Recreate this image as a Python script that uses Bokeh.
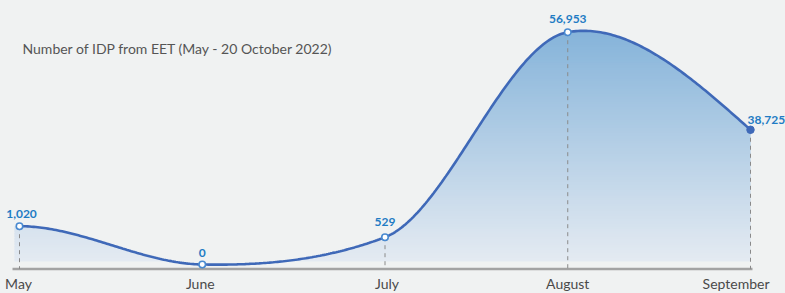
import numpy as np
from bokeh.plotting import figure
from bokeh.models import ColumnDataSource, Label, Range1d
from bokeh.core.properties import value
from bokeh.embed import file_html
from bokeh.resources import INLINE

# ---------------- data ----------------
months = ["May", "June", "July", "August", "September"]
idp_counts = [1020, 0, 529, 56953, 38725]
# height of each point as drawn in the reference (the drawing is not to scale
# for the small months); values estimated from the picture against the peak
curve_level = [9390, 0, 6690, 56953, 33030]
title_text = "Number of IDP from EET (May - 20 October 2022)"

# ---------------- style ----------------
BG = "#f0f2f2"
LINE = "#3f69b8"
LABEL = "#1f7cc4"
FONT = "Lato"
W, H = 785, 293

xs = np.arange(len(months), dtype=float)
ys = np.array(curve_level, dtype=float)
n = len(xs)

# pixel scale helpers (value units per pixel)
px_x = 1 / 182.75
px_y = 245.17

# ---------------- spline (cardinal, cubic Hermite) ----------------
TENSION = 0.6
m = np.zeros(n)
for i in range(1, n - 1):
    m[i] = TENSION * (ys[i + 1] - ys[i - 1]) / (xs[i + 1] - xs[i - 1])
m[0] = 0.0
m[-1] = (3 * (ys[-1] - ys[-2]) / (xs[-1] - xs[-2]) - m[-2]) / 2
cx, cy = [], []
for i in range(n - 1):
    h = xs[i + 1] - xs[i]
    t = np.linspace(0, 1, 90, endpoint=(i == n - 2))
    h00 = 2 * t**3 - 3 * t**2 + 1
    h10 = t**3 - 2 * t**2 + t
    h01 = -2 * t**3 + 3 * t**2
    h11 = t**3 - t**2
    cx.append(xs[i] + t * h)
    cy.append(h00 * ys[i] + h10 * h * m[i] + h01 * ys[i + 1] + h11 * h * m[i + 1])
cx = np.concatenate(cx)
cy = np.concatenate(cy)

# ---------------- figure ----------------
x0 = xs[0] - 19 * px_x
x1 = xs[-1] + 35 * px_x
y_top = 264 * px_y
y_bot = -29 * px_y
p = figure(width=W, height=H, output_backend="svg", toolbar_location=None,
           x_range=Range1d(x0, x1), y_range=Range1d(y_bot, y_top),
           min_border=0, background_fill_color=BG, border_fill_color=BG,
           outline_line_color=None)
p.axis.visible = False
p.grid.visible = False

# gradient fill made of horizontal bands
fill_base = 3 * px_y
top_val = ys.max()
levels = np.linspace(fill_base, cy.max() + 200, 90)
c_top = np.array([134, 180, 218])
c_bot = np.array([229, 235, 242])
# small lead-in of the fill to the left of the first point
fx = np.concatenate([[xs[0] - 5 * px_x], cx])
fy = np.concatenate([[cy[0]], cy])
for k in range(len(levels) - 1):
    lo, hi = levels[k], levels[k + 1]
    ov = 0 if k == 0 else (hi - lo) * 0.6
    mid = (lo + hi) / 2
    f = min(max((mid - fill_base) / (top_val - fill_base), 0), 1)
    col = c_bot + (c_top - c_bot) * f
    colhex = "#%02x%02x%02x" % tuple(int(round(v)) for v in col)
    y1 = np.clip(fy, lo - ov, hi)
    p.varea(x=fx, y1=y1, y2=np.full_like(fx, lo - ov), fill_color=colhex)

# baseline
base_v = -4.5 * px_y
p.segment(x0=[xs[0] - 7 * px_x], y0=[base_v], x1=[xs[-1] + 2 * px_x], y1=[base_v],
          line_color="#a3a3a3", line_width=2.5)

# dashed drop lines
p.segment(x0=xs, y0=ys, x1=xs, y1=np.full(n, base_v), line_color="#8a8a8a",
          line_width=1, line_dash="4 4")

# curve
p.line(cx, cy, line_color=LINE, line_width=2.6)

# markers
p.scatter(xs[:-1], ys[:-1], size=6.5, fill_color="white", line_color="#4a8ad0",
          line_width=1.6)
p.scatter(xs[-1:], ys[-1:], size=7.5, fill_color=LINE, line_color=LINE)

# value labels
lab_src = ColumnDataSource(dict(
    x=xs, y=ys, t=[f"{v:,}" for v in idp_counts],
    align=["center"] * (n - 1) + ["left"],
    xo=[2, 0, 0, 0, -3],
    yo=[-12, -12, -15, -13, -10],
))
p.text(x="x", y="y", text="t", source=lab_src, text_align="align",
       x_offset="xo", y_offset="yo", text_baseline="alphabetic",
       text_font=value(FONT), text_font_style="bold", text_font_size="12px",
       text_color=LABEL)

# month labels
mon_src = ColumnDataSource(dict(
    x=xs, y=np.zeros(n), t=months,
    align=["center"] * (n - 1) + ["right"],
    xo=[-1, -2, 2, 0, 19],
))
p.text(x="x", y="y", text="t", source=mon_src, text_align="align",
       x_offset="xo", y_offset=19, text_baseline="alphabetic",
       text_font=value(FONT), text_font_size="14px", text_color="#4a4a4a")

# title
p.add_layout(Label(x=22, y=H - 48, x_units="screen", y_units="screen",
                   text=title_text, text_font=FONT, text_font_size="14px",
                   text_color="#555555", text_baseline="middle"))

html = file_html(p, INLINE)
html = html.replace("</head>", "<style>body{background:%s;}</style></head>" % BG, 1)
open("out.html", "w").write(html)
